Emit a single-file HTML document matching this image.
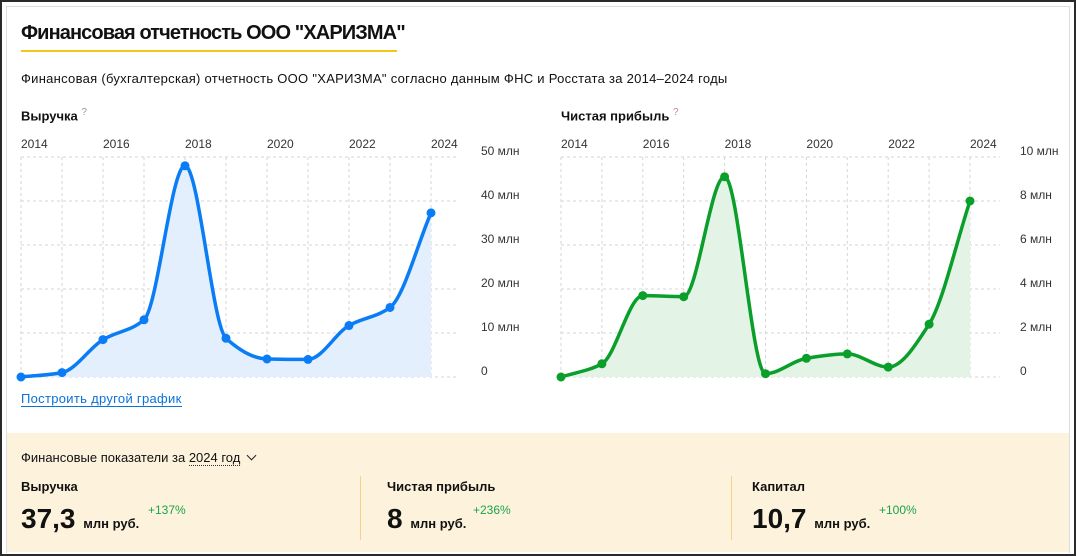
<!DOCTYPE html>
<html><head><meta charset="utf-8">
<style>
html,body{margin:0;padding:0;}
body{width:1076px;height:556px;position:relative;overflow:hidden;background:#fff;font-family:"Liberation Sans",sans-serif;color:#111;}
.frame{position:absolute;left:0;top:0;width:1072px;height:552px;border:2px solid #2a2a2a;}
.inner{position:absolute;left:6px;top:6px;width:1062px;height:546px;border:1px solid #ddd;border-bottom:none;}
.t{position:absolute;white-space:nowrap;}
svg{position:absolute;left:0;top:0;}
</style></head><body>
<div class="frame"></div>
<div class="inner"></div>
<div class="t" style="left:21px;top:22px;font-size:20px;font-weight:bold;letter-spacing:-0.9px;">Финансовая отчетность ООО "ХАРИЗМА"</div>
<div style="position:absolute;left:21px;top:50px;width:376px;height:2px;background:#f5c518;"></div>
<div class="t" style="left:21px;top:71px;font-size:13px;letter-spacing:0.28px;">Финансовая (бухгалтерская) отчетность ООО "ХАРИЗМА" согласно данным ФНС и Росстата за 2014–2024 годы</div>
<div class="t" style="left:21px;top:107px;font-size:13px;font-weight:bold;">Выручка <sup style="color:#999;font-weight:normal;font-size:10px;">?</sup></div>
<div class="t" style="left:561px;top:107px;font-size:13px;font-weight:bold;">Чистая прибыль <sup style="color:#c88;font-weight:normal;font-size:10px;">?</sup></div>
<div class="t" style="left:21px;top:391px;font-size:13px;color:#0a72d8;border-bottom:1px solid #0a72d8;line-height:15px;letter-spacing:0.3px;">Построить другой график</div>
<svg id="chart" width="1076" height="430"></svg>

<div style="position:absolute;left:7px;top:433px;width:1062px;height:119px;background:#fdf3dc;"></div>
<div class="t" style="left:21px;top:450px;font-size:13px;">Финансовые показатели за <span style="border-bottom:1px dotted #333;">2024 год</span> <span style="display:inline-block;width:6px;height:6px;border-right:1.5px solid #222;border-bottom:1.5px solid #222;transform:rotate(45deg);margin-left:4px;position:relative;top:-3px;"></span></div>
<div style="position:absolute;left:360px;top:476px;width:1px;height:64px;background:#f0d48a;"></div>
<div style="position:absolute;left:731px;top:476px;width:1px;height:64px;background:#f0d48a;"></div>

<div class="t" style="left:21px;top:479px;font-size:13px;font-weight:bold;">Выручка</div>
<div class="t" style="left:21px;top:503px;font-size:28px;font-weight:bold;">37,3 <span style="font-size:13px;">млн руб.</span></div>
<div class="t" style="left:148px;top:503px;font-size:12px;color:#1aa34a;">+137%</div>

<div class="t" style="left:387px;top:479px;font-size:13px;font-weight:bold;">Чистая прибыль</div>
<div class="t" style="left:387px;top:503px;font-size:28px;font-weight:bold;">8 <span style="font-size:13px;">млн руб.</span></div>
<div class="t" style="left:473px;top:503px;font-size:12px;color:#1aa34a;">+236%</div>

<div class="t" style="left:752px;top:479px;font-size:13px;font-weight:bold;">Капитал</div>
<div class="t" style="left:752px;top:503px;font-size:28px;font-weight:bold;">10,7 <span style="font-size:13px;">млн руб.</span></div>
<div class="t" style="left:879px;top:503px;font-size:12px;color:#1aa34a;">+100%</div>

<script>
const years = [2014,2015,2016,2017,2018,2019,2020,2021,2022,2023,2024];
const revenue = [0,1.0,8.5,13,48,8.8,4.1,4.0,11.7,15.8,37.3];
const profit = [0,0.6,3.7,3.65,9.1,0.15,0.85,1.05,0.45,2.4,8.0];
const revenueTicks = [0,10,20,30,40,50];
const profitTicks = [0,2,4,6,8,10];
const tickSuffix = " млн";

const NS="http://www.w3.org/2000/svg";
const svg=document.getElementById('chart');
function mk(tag,attrs){const e=document.createElementNS(NS,tag);for(const k in attrs)e.setAttribute(k,attrs[k]);svg.appendChild(e);return e;}
function monotone(pts){
  const n=pts.length,dx=[],s=[],m=[];
  for(let i=0;i<n-1;i++){dx[i]=pts[i+1][0]-pts[i][0];s[i]=(pts[i+1][1]-pts[i][1])/dx[i];}
  m[0]=s[0];m[n-1]=s[n-2];
  for(let i=1;i<n-1;i++){
    if(s[i-1]*s[i]<=0)m[i]=0;
    else m[i]=3*(dx[i-1]+dx[i])/((2*dx[i]+dx[i-1])/s[i-1]+(dx[i]+2*dx[i-1])/s[i]);
  }
  let d=`M${pts[0][0]},${pts[0][1]}`;
  for(let i=0;i<n-1;i++){
    const h=dx[i]/3;
    d+=` C${pts[i][0]+h},${pts[i][1]+m[i]*h} ${pts[i+1][0]-h},${pts[i+1][1]-m[i+1]*h} ${pts[i+1][0]},${pts[i+1][1]}`;
  }
  return d;
}
function draw(cfg){
  const {x0,x1,y0,y1,max,ticks,vals,color,fill,labX,gridEnd,name}=cfg;
  const xs=i=>x0+(x1-x0)*i/(years.length-1);
  const ys=v=>y0-(y0-y1)*v/max;
  years.forEach((yr,i)=>{
    const l=mk('line',{x1:xs(i),x2:xs(i),y1:y1,y2:y0,stroke:'#d6d6d6','stroke-dasharray':'3,3'});
    
    
    if(i%2===0){
      const t=mk('text',{x:xs(i),y:148,'font-size':12,fill:'#333','font-family':'Liberation Sans, sans-serif'});
      t.textContent=yr;
      
      
    }
  });
  ticks.forEach(v=>{
    const l=mk('line',{x1:x0,x2:gridEnd,y1:ys(v),y2:ys(v),stroke:'#d6d6d6','stroke-dasharray':'3,3'});
    
    
    const t=mk('text',{x:labX,y:ys(v)-2,'font-size':12,fill:'#333','font-family':'Liberation Sans, sans-serif'});
    t.textContent=v===0?'0':v+tickSuffix;
    
    
  });
  const pts=vals.map((v,i)=>[xs(i),ys(v)]);
  const d=monotone(pts);
  const a=mk('path',{d:d+` L${xs(vals.length-1)},${y0} L${x0},${y0} Z`,fill:fill});
  
  
  const ln=mk('path',{d:d,fill:'none',stroke:color,'stroke-width':3.5});
  
  
  pts.forEach(p=>{
    const c=mk('circle',{cx:p[0],cy:p[1],r:4.5,fill:color});
    
    
  });
}
draw({x0:21,x1:431,y0:377,y1:157,max:50,ticks:revenueTicks,vals:revenue,color:'#0a7cf5',fill:'#e3effc',labX:481,gridEnd:458,name:'revenue'});
draw({x0:561,x1:970,y0:377,y1:157,max:10,ticks:profitTicks,vals:profit,color:'#0a9e2a',fill:'#e3f4e6',labX:1020,gridEnd:1000,name:'profit'});
</script>
</body></html>
